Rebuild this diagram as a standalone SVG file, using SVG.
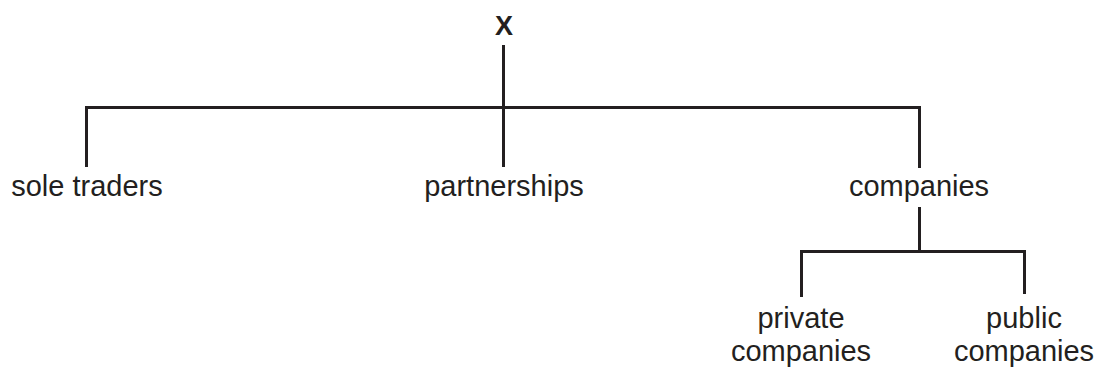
<svg xmlns="http://www.w3.org/2000/svg" width="1100" height="370" viewBox="0 0 1100 370">
<style>
text{font-family:"Liberation Sans",Arial,sans-serif;font-size:29px;fill:#231f20;text-anchor:middle}
.b{font-weight:bold;font-size:27px}
.c{fill:none;stroke:#231f20;stroke-width:3}
</style>
<rect width="1100" height="370" fill="#fff"/>
<g id="connectors">
<path class="c" d="M503.5,45V167"/>
<path class="c" d="M86.5,167V107.5H919.5V168"/>
<path class="c" d="M919.5,207V251.5"/>
<path class="c" d="M801.5,297V251.5H1024.5V294"/>
</g>
<g id="node-x"><text class="b" x="504" y="35">X</text></g>
<g id="node-sole"><text x="87" y="196">sole traders</text></g>
<g id="node-partnerships"><text x="504" y="196">partnerships</text></g>
<g id="node-companies"><text x="919" y="196">companies</text></g>
<g id="node-private"><text x="801" y="328">private</text><text x="801" y="361">companies</text></g>
<g id="node-public"><text x="1024" y="328">public</text><text x="1024" y="361">companies</text></g>
</svg>
